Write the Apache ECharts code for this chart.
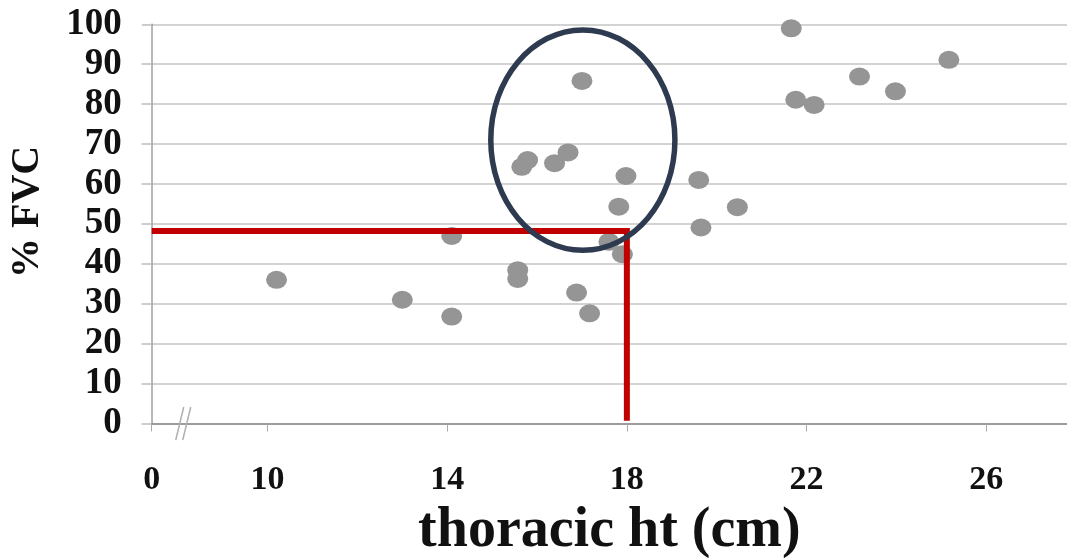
<!DOCTYPE html>
<html>
<head>
<meta charset="utf-8">
<script src="https://cdn.jsdelivr.net/npm/echarts@6/dist/echarts.min.js"></script>
<style>
html,body{margin:0;padding:0;background:#fff;}
#chart{width:1067px;height:558px;}
</style>
</head>
<body>
<div id="chart"></div>
<script>
// Data
const thoracicHt = [10.2, 13.0, 14.1, 14.1, 15.57, 15.57, 15.66, 15.79, 16.39, 16.69, 17.0, 16.88, 17.17, 17.6, 17.9, 17.82, 17.98, 19.6, 19.65, 20.46, 21.66, 21.76, 22.17, 23.18, 23.98, 25.17];
const fvcPct     = [36.0, 31.0, 26.8, 47.0, 38.4, 36.2, 64.3, 66.0, 65.2, 67.9, 85.8, 32.8, 27.6, 45.5, 42.4, 54.3, 62.0, 61.0, 49.1, 54.2, 99.0, 81.1, 79.8, 86.9, 83.2, 91.1];
// x axis has a break: the "0" tick sits just left of the break
const xAxisStart = 7.42;
const xTickValues = [7.42, 10, 14, 18, 22, 26];
const xTickLabels = ['0', '10', '14', '18', '22', '26'];
// reference lines (red)
const refLineX = [xAxisStart, 18, 18];
const refLineY = [48.2, 48.2, 0.7];
// highlight ellipse (data units)
const ellipseCenter = [17.02, 71.0];
const ellipseRadius = [2.05, 27.6];
const breakAt = 8.2;

const chart = echarts.init(document.getElementById('chart'));
const serif = '"Liberation Serif","Times New Roman",serif';
const pts = thoracicHt.map((x, i) => [x, fvcPct[i]]);
const refLine = refLineX.map((x, i) => [x, refLineY[i]]);

chart.setOption({
  animation: false,
  backgroundColor: '#ffffff',
  grid: {left: 151.7, top: 24.3, right: 0, bottom: 134.5, containLabel: false, outerBoundsMode: 'none'},
  xAxis: {
    type: 'value', min: xAxisStart, max: 27.8,
    name: 'thoracic ht (cm)', nameLocation: 'middle', nameGap: 80,
    nameTextStyle: {fontFamily: serif, fontWeight: 'bold', fontSize: 56, color: '#111'},
    axisLine: {show: true, lineStyle: {color: '#8a8a8a', width: 1.5}},
    axisTick: {show: true, length: 8, customValues: xTickValues, lineStyle: {color: '#aaaaaa', width: 1}},
    axisLabel: {
      customValues: xTickValues, margin: 40,
      fontFamily: serif, fontWeight: 'bold', fontSize: 34, color: '#111',
      formatter: function (v) {
        const i = xTickValues.findIndex(t => Math.abs(t - v) < 1e-6);
        return i >= 0 ? xTickLabels[i] : '';
      }
    },
    splitLine: {show: false}
  },
  yAxis: {
    type: 'value', min: 0, max: 100, interval: 10,
    name: '% FVC', nameLocation: 'middle', nameGap: 104,
    nameTextStyle: {fontFamily: serif, fontWeight: 'bold', fontSize: 40, color: '#111', padding: [0, 0, 0, 24]},
    axisLine: {show: true, lineStyle: {color: '#a0a0a0', width: 1.5}},
    axisTick: {show: true, length: 10, lineStyle: {color: '#bdbdbd', width: 1.5}},
    axisLabel: {margin: 30, fontFamily: serif, fontWeight: 'bold', fontSize: 37, color: '#111'},
    splitLine: {show: true, lineStyle: {color: '#c4c4c4', width: 1.5}}
  },
  series: [
    {
      type: 'scatter', data: pts,
      symbol: 'path://M10,0 A10,10 0 1,1 10,20 A10,10 0 1,1 10,0 Z',
      symbolSize: [21, 18],
      itemStyle: {color: '#959595', opacity: 1},
      z: 2
    },
    {
      type: 'line', data: refLine, symbol: 'none', silent: true,
      lineStyle: {color: '#c00000', width: 6, cap: 'butt', join: 'miter'},
      z: 4
    }
  ]
});

function drawOverlays() {
  const c = chart.convertToPixel({gridIndex: 0}, ellipseCenter);
  const ex = chart.convertToPixel({gridIndex: 0}, [ellipseCenter[0] + ellipseRadius[0], ellipseCenter[1] + ellipseRadius[1]]);
  const b = chart.convertToPixel({gridIndex: 0}, [breakAt, 0]);
  chart.setOption({
    graphic: [
      {type: 'ellipse', shape: {cx: c[0], cy: c[1], rx: ex[0] - c[0], ry: c[1] - ex[1]},
       style: {fill: 'none', stroke: '#2e3a4f', lineWidth: 5.5}, z: 100},
      {type: 'line', shape: {x1: b[0] - 11, y1: b[1] + 16.5, x2: b[0] - 3, y2: b[1] - 16.5},
       style: {stroke: '#b0b0b0', lineWidth: 1.5}, z: 100},
      {type: 'line', shape: {x1: b[0] - 4, y1: b[1] + 16.5, x2: b[0] + 4, y2: b[1] - 16.5},
       style: {stroke: '#b0b0b0', lineWidth: 1.5}, z: 100}
    ]
  });
}
drawOverlays();
</script>
</body>
</html>
